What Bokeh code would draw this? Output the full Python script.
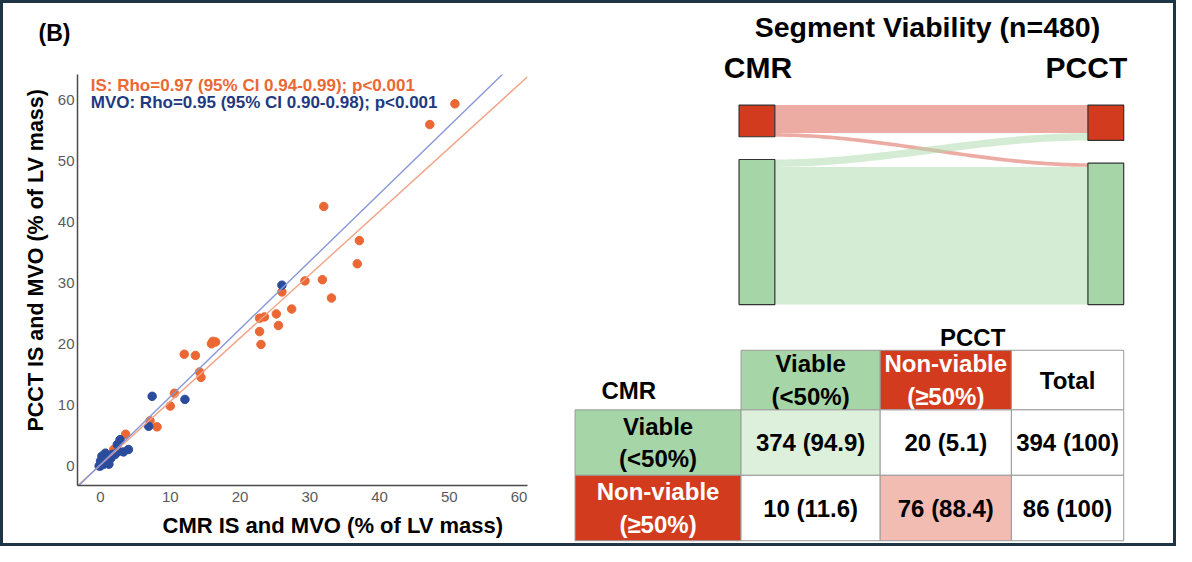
import numpy as np
from bokeh.plotting import figure
from bokeh.models import Range1d, FixedTicker, Label, Title
from bokeh.layouts import row, column
from bokeh.embed import file_html
from bokeh.resources import INLINE
from bokeh.core.properties import value

# ---------------- data ----------------
is_cmr = [0.3, 1.9, 3.6, 7.1, 8.1, 10.0, 10.6, 12.0, 13.6, 14.2, 14.4, 15.9, 16.1, 16.5,
          22.8, 23.5, 22.8, 23.0, 25.2, 25.5, 26.0, 27.4, 29.3, 31.8, 33.1, 32.0, 36.8,
          37.1, 47.2, 50.8]
is_pcct = [0.4, 2.7, 5.2, 7.4, 6.4, 9.8, 11.9, 18.3, 18.1, 15.4, 14.5, 20.0, 20.4, 20.3,
           24.2, 24.4, 22.0, 19.9, 24.9, 23.0, 28.5, 25.7, 30.3, 30.5, 27.5, 42.5, 33.1,
           36.9, 55.9, 59.3]
mvo_cmr = [0.0, -0.2, 0.2, 0.0, 0.5, 1.0, 1.2, 0.7, 1.7, 2.1, 2.6, 3.3, 4.0, 2.4, 2.8,
           0.4, 1.5, 6.9, 7.4, 12.1, 26.0]
mvo_pcct = [0.0, 0.0, 1.6, 0.8, 0.3, 0.5, 0.3, 2.1, 1.9, 1.9, 2.4, 2.3, 2.7, 3.5, 4.3,
            1.0, 1.3, 6.5, 11.4, 10.9, 29.6]
is_fit = (0.19, 1.038)    # intercept, slope
mvo_fit = (0.24, 1.109)
ticks = [0, 10, 20, 30, 40, 50, 60]
is_stat = "IS: Rho=0.97 (95% CI 0.94-0.99); p<0.001"
mvo_stat = "MVO: Rho=0.95 (95% CI 0.90-0.98); p<0.001"
x_title = "CMR IS and MVO (% of LV mass)"
y_title = "PCCT IS and MVO (% of LV mass)"

class_labels = ["Viable\n(<50%)", "Non-viable\n(\u226550%)"]
counts = [[374, 20],   # CMR viable -> PCCT viable / non-viable
          [10, 76]]    # CMR non-viable -> PCCT viable / non-viable

# ---------------- styles ----------------
FONTNAME = "Liberation Sans"
FONT = value(FONTNAME)
ORANGE = "#EB6834"
BLUE = "#2B4C9C"
RED = "#D23B1E"
GREEN = "#A6D6A7"

# ---------------- scatter ----------------
pA = figure(width=565, height=540, output_backend="svg", toolbar_location=None,
            x_range=Range1d(-3.3, 61.2), y_range=Range1d(-3.2, 64.1),
            min_border_left=74, min_border_right=41, min_border_top=71, min_border_bottom=56,
            title="(B)\n")
pA.title.text_font = FONTNAME
pA.title.text_font_size = "23px"
pA.title.text_font_style = "bold"
pA.title.text_color = "black"
pA.title.offset = -39
pA.title.standoff = 6
pA.xgrid.visible = False
pA.ygrid.visible = False
pA.outline_line_color = None
for ax in (pA.xaxis[0], pA.yaxis[0]):
    ax.ticker = FixedTicker(ticks=ticks)
    ax.major_tick_in = 0
    ax.major_tick_out = 0
    ax.minor_tick_in = 0
    ax.minor_tick_out = 0
    ax.major_tick_line_color = None
    ax.minor_tick_line_color = None
    ax.axis_line_color = "#4a4a4a"
    ax.axis_line_width = 1.5
    ax.major_label_text_font = FONTNAME
    ax.major_label_text_font_size = "15px"
    ax.major_label_text_color = "#5a5a5a"
pA.xaxis.major_label_standoff = 6
pA.yaxis.major_label_standoff = 3

pA.add_layout(Title(text=x_title, align="left", offset=85, standoff=12,
                    text_font=FONTNAME, text_font_size="22px", text_font_style="bold",
                    text_color="black"), "below")
pA.add_layout(Title(text=y_title, align="left", offset=54, standoff=14,
                    text_font=FONTNAME, text_font_size="21.5px", text_font_style="bold",
                    text_color="black"), "left")

pA.scatter(is_cmr, is_pcct, size=8.5, color=ORANGE)
pA.scatter(mvo_cmr, mvo_pcct, size=8.5, color=BLUE)
xl = np.array([-3.3, 61.2])
pA.line(xl, is_fit[0] + is_fit[1] * xl, line_color="#F2A283", line_width=1.4)
pA.line(xl, mvo_fit[0] + mvo_fit[1] * xl, line_color="#8898D6", line_width=1.4)

pA.add_layout(Label(x=-1.4, y=62.3, text=is_stat, text_color=ORANGE, text_font=FONTNAME,
                    text_font_style="bold", text_font_size="17px", text_baseline="middle"))
pA.add_layout(Label(x=-1.4, y=59.5, text=mvo_stat, text_color="#1F3A80", text_font=FONTNAME,
                    text_font_style="bold", text_font_size="17px", text_baseline="middle"))

# ---------------- sankey + table ----------------
pB = figure(width=605, height=540, output_backend="svg", toolbar_location=None,
            x_range=Range1d(576.4, 1185.1), y_range=Range1d(554.8, 2.0),
            min_border=0, x_axis_location=None, y_axis_location=None)
pB.xgrid.visible = False
pB.ygrid.visible = False
pB.outline_line_color = None

cnt = np.array(counts, dtype=float)
n_total = int(cnt.sum())
cmr_tot = cnt.sum(axis=1)     # viable, non-viable
pcct_tot = cnt.sum(axis=0)

# sankey geometry
LX0, LX1, RX0, RX1 = 748, 784, 1099, 1135
TOP, K, GAP = 106, 0.377, 23.3
order = [1, 0]   # non-viable on top, then viable
def node_pos(tot):
    pos = {}
    y = TOP
    for i in order:
        pos[i] = (y, y + tot[i] * K)
        y = y + tot[i] * K + GAP
    return pos
lpos = node_pos(cmr_tot)
rpos = node_pos(pcct_tot)

lcur = {i: lpos[i][0] for i in order}
rcur = {j: rpos[j][0] for j in order}
link_colors = {1: "#DA5A4A", 0: "#A9D8AA"}
t = np.linspace(0, 1, 80)
s = 3 * t ** 2 - 2 * t ** 3
xs_link = LX1 + (RX0 - LX1) * t
for i in order:
    for j in order:
        h = cnt[i][j] * K
        ya0, yb0 = lcur[i], rcur[j]
        lcur[i] += h
        rcur[j] += h
        top = ya0 + (yb0 - ya0) * s
        bot = (ya0 + h) + ((yb0 + h) - (ya0 + h)) * s
        pB.patch(list(xs_link) + list(xs_link[::-1]), list(top) + list(bot[::-1]),
                 fill_color=link_colors[i], fill_alpha=0.5, line_color=None)

node_fill = {1: RED, 0: GREEN}
for i in order:
    pB.quad(left=LX0, right=LX1, top=lpos[i][0], bottom=lpos[i][1],
            fill_color=node_fill[i], line_color="#333333", line_width=1.2)
    pB.quad(left=RX0, right=RX1, top=rpos[i][0], bottom=rpos[i][1],
            fill_color=node_fill[i], line_color="#333333", line_width=1.2)

pB.text(x=[937.5], y=[26.5], text=[f"Segment Viability (n={n_total})"], text_font=FONT,
        text_font_style="bold", text_font_size="28.5px", text_align="center",
        text_baseline="middle", text_color="black")
pB.text(x=[767, 1097.5], y=[68, 68], text=["CMR", "PCCT"], text_font=FONT,
        text_font_style="bold", text_font_size="30px", text_align="center",
        text_baseline="middle", text_color="black")

# table geometry
col_edges = [583, 750, 890, 1022, 1135]
row_edges = [357, 418, 485, 552]
GRID = "#9a9a9a"
def cell(ci, ri, fill, txt, tcolor="black"):
    l, r = col_edges[ci], col_edges[ci + 1]
    tp, bt = row_edges[ri], row_edges[ri + 1]
    pB.quad(left=l, right=r, top=tp, bottom=bt, fill_color=fill, line_color=GRID, line_width=1)
    pB.text(x=[(l + r) / 2], y=[(tp + bt) / 2], text=[txt], text_font=FONT,
            text_font_style="bold", text_font_size="24px", text_align="center",
            text_baseline="middle", text_color=tcolor, text_line_height=1.2)

hdr_fill = {0: GREEN, 1: RED}
hdr_txt = {0: "black", 1: "white"}
light_fill = {0: "#DDF0DC", 1: "#F3BCB3"}
for j in (0, 1):
    cell(1 + j, 0, hdr_fill[j], class_labels[j], hdr_txt[j])
cell(3, 0, "white", "Total")
for i in (0, 1):
    cell(0, 1 + i, hdr_fill[i], class_labels[i], hdr_txt[i])
    for j in (0, 1):
        pct = 100 * cnt[i][j] / cmr_tot[i]
        fill = light_fill[i] if i == j else "white"
        cell(1 + j, 1 + i, fill, f"{int(cnt[i][j])} ({pct:.1f})")
    cell(3, 1 + i, "white", f"{int(cmr_tot[i])} (100)")

pB.text(x=[637, 983], y=[398, 344], text=["CMR", "PCCT"], text_font=FONT,
        text_font_style="bold", text_font_size="24px", text_align="center",
        text_baseline="middle", text_color="black")

layout = row(pA, column(pB), styles={"border": "3px solid #1E3546"})
open("out.html", "w").write(file_html(layout, INLINE))
